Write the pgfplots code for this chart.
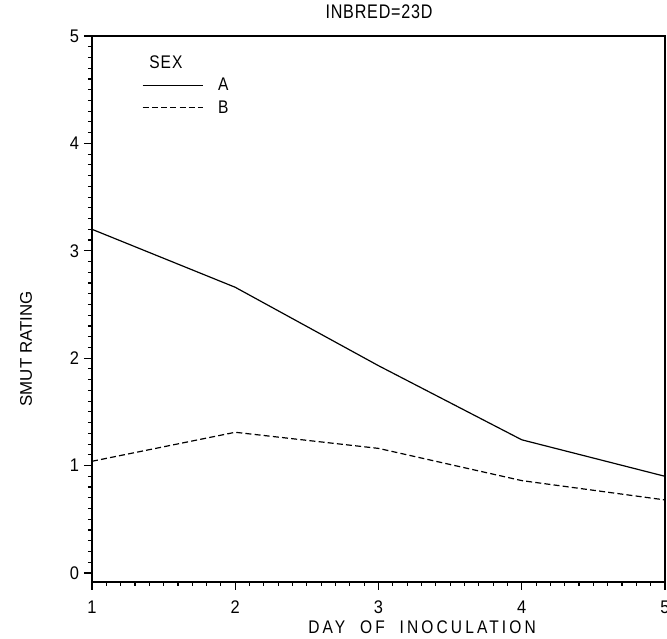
\documentclass[border=0pt]{standalone}
\usepackage{fontspec}
\setmainfont{Liberation Sans}
\usepackage{pgfplots}
\pgfplotsset{compat=1.18}
\begin{document}
\begin{tikzpicture}
\path[use as bounding box] (0,0) rectangle (166.75mm,159.75mm);
\begin{axis}[
  at={(23mm,14.25mm)}, anchor=south west,
  scale only axis, width=143.25mm, height=136.5mm,
  clip=false,
  xmin=1, xmax=5, ymin=-0.084, ymax=5,
  xtick={1,2,3,4,5}, ytick={0,1,2,3,4,5},
  minor tick num=9,
  tick align=outside, xtick pos=bottom, ytick pos=left,
  major tick length=2mm, minor tick length=1mm,
  every tick/.style={black, line width=0.8pt},
  axis line style={line width=1pt},
  /pgf/number format/assume math mode=true,
  tick label style={font=\fontsize{13}{15}\selectfont\addfontfeature{FakeStretch=0.9}},
  xticklabel style={yshift=-1.4mm},
  xlabel={DAY\ \ OF\ \ INOCULATION},
  xlabel style={at={(axis description cs:0.576,-0.0824)}, anchor=center,
    font=\fontsize{13}{15}\selectfont\addfontfeature{FakeStretch=0.85,LetterSpace=17}},
  ylabel={SMUT RATING},
  ylabel style={at={(axis description cs:-0.1152,0.427)}, anchor=center, font=\fontsize{12}{14}\selectfont},
  legend style={draw=none, fill=none, at={(axis description cs:0.087,0.929)}, anchor=north west,
    inner sep=0pt, column sep=3mm, row sep=0.6mm,
    font=\fontsize{13}{15}\selectfont\addfontfeature{FakeStretch=0.85}},
  legend cell align=left,
  legend image code/.code={\draw[#1] (0mm,0mm) -- (15mm,0mm);},
]
\addplot[black, line width=0.85pt] coordinates {(1,3.20) (2,2.66) (3,1.93) (4,1.24) (5,0.90)};
\addlegendentry{A}
\addplot[black, line width=0.85pt, dash pattern=on 1.5mm off 0.8mm] coordinates {(1,1.04) (2,1.31) (3,1.16) (4,0.86) (5,0.68)};
\addlegendentry{B}
\node[font=\fontsize{13}{15}\selectfont\addfontfeature{FakeStretch=0.85,LetterSpace=6}, anchor=center] at (axis description cs:0.129,0.952) {SEX};
\node[font=\fontsize{14}{16}\selectfont\addfontfeature{FakeStretch=0.82,LetterSpace=4}, anchor=center] at (axis description cs:0.501,1.044) {INBRED=23D};
\end{axis}
\end{tikzpicture}
\end{document}
